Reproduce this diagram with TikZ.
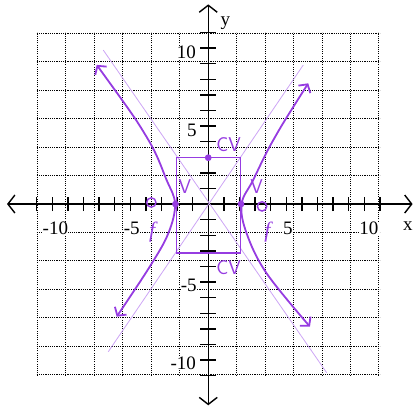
\documentclass[tikz,border=0pt]{standalone}
\usepackage{fontspec}
\setmainfont{Liberation Serif}
\usetikzlibrary{arrows.meta, positioning}

\definecolor{penpurple}{RGB}{150,60,225}
\definecolor{lightpurple}{RGB}{205,165,245}

\begin{document}
\begin{tikzpicture}[
    x=15.6pt, y=15.6pt,
    axis/.style={line width=1.4pt, {Straight Barb[length=7pt,width=18pt]}-{Straight Barb[length=7pt,width=18pt]}}, % Axes with open tips
    gridline/.style={dash pattern=on 1.1pt off 1.1pt, line width=1pt}, % Dotted graph paper
    tickmark/.style={line width=1.4pt}, % Short marks on the axes
    num/.style={font=\fontsize{19}{19}\selectfont, fill=white, inner sep=0.3pt}, % Axis numbers
    branch/.style={penpurple, line width=1.8pt, line cap=round, {Straight Barb[length=6pt,width=14pt]}-{Straight Barb[length=6pt,width=14pt]}}, % Hyperbola branches
    asym/.style={lightpurple, line width=0.8pt}, % Asymptotes
    hand/.style={penpurple, font=\sffamily\fontsize{20}{20}\selectfont}, % Handwritten labels
    dot/.style={fill=penpurple, circle, inner sep=2.4pt} % Vertices
]

    \useasboundingbox (-13.35,-12.95) rectangle (13.19,13.08);

    % Graph paper
    \draw[gridline] (-11,-11) grid (11,11);

    % Numbers on the axes
    \node[num] (xm10) at (-9.8,-1.55) {-10};
    \node[num] (xm5) at (-4.9,-1.55) {-5};
    \node[num] (xp5) at (5.1,-1.55) {5};
    \node[num] (xp10) at (10.3,-1.55) {10};
    \node[num] (yp10) at (-1.4,9.7) {10};
    \node[num] (yp5) at (-1.05,4.7) {5};
    \node[num] (ym5) at (-1.25,-5.2) {-5};
    \node[num] (ym10) at (-1.6,-10.2) {-10};

    % Axes
    \draw[axis] (-12.9,0) -- (13.1,0);
    \draw[axis] (0,-12.9) -- (0,12.8);
    \node[font=\fontsize{19}{19}\selectfont] (xlabel) at (12.8,-1.4) {x};
    \node[font=\fontsize{19}{19}\selectfont] (ylabel) at (1.1,11.6) {y};

    \foreach \k in {-11,...,-1,1,2,...,11} {
        \draw[tickmark] (\k,-0.45) -- (\k,0.45);
        \draw[tickmark] (-0.5,\k) -- (0.5,\k);
    }

    % Asymptotes
    \draw[asym] (-6.73,9.87) -- (7.59,-10.81);
    \draw[asym] (-6.41,-9.47) -- (6.09,8.91);

    % Box through vertices and co-vertices
    \draw[penpurple, line width=1.4pt] (-2.05,-3.15) rectangle (2.05,2.97);

    % Branches
    \draw[branch] plot[smooth, tension=0.6] coordinates {(-7.15,8.92) (-3.95,4.3) (-2.67,1.54) (-2.13,0) (-2.56,-1.88) (-3.74,-4.0) (-5.87,-7.22)};
    \draw[branch] plot[smooth, tension=0.6] coordinates {(6.41,7.74) (4.17,4.1) (2.88,1.54) (2.14,0) (2.46,-1.88) (3.74,-4.44) (6.52,-7.86)};

    % Vertices, co-vertex and foci
    \node[dot] (vleft) at (-2.1,0) {};
    \node[dot] (vright) at (2.1,0) {};
    \node[dot] (cvtop) at (0,2.97) {};
    \draw[penpurple, line width=1.4pt] (-3.65,0.1) circle (0.3);
    \draw[penpurple, line width=1.4pt] (3.45,-0.15) circle (0.3);

    % Labels
    \node[hand] (lcvtop) at (1.3,3.8) {CV};
    \node[hand] (lcvbot) at (1.3,-4.1) {CV};
    \node[hand] (lvleft) at (-1.5,1.1) {V};
    \node[hand] (lvright) at (3.1,1.1) {V};
    \node[hand, font=\itshape\fontsize{22}{22}\selectfont] (lfleft) at (-3.6,-1.8) {f};
    \node[hand, font=\itshape\fontsize{22}{22}\selectfont] (lfright) at (3.8,-1.8) {f};

\end{tikzpicture}
\end{document}
